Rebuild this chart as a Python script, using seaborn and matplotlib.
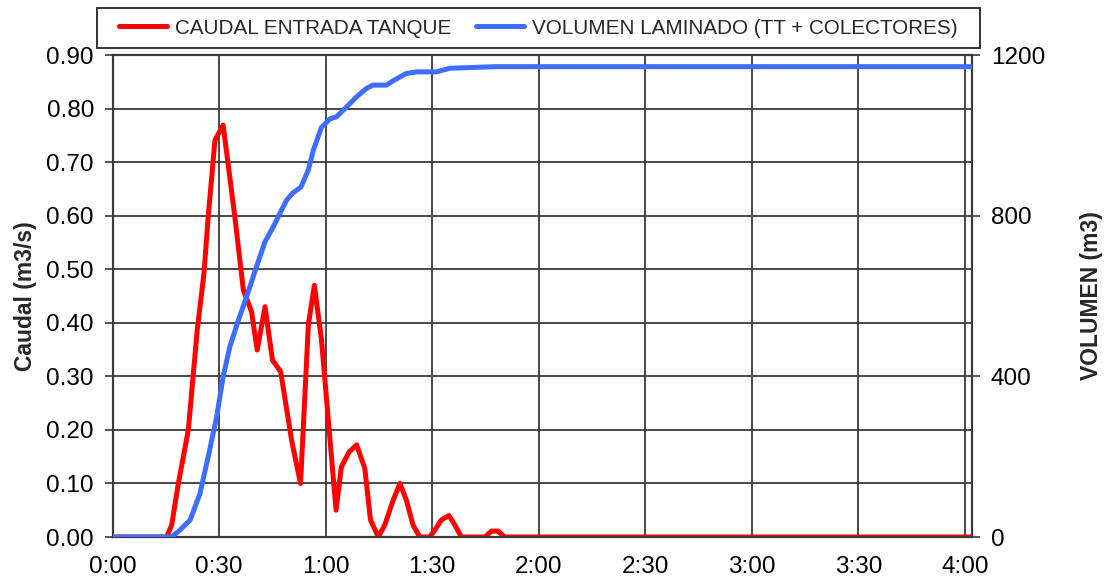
import matplotlib
matplotlib.use("Agg")
import matplotlib.pyplot as plt
import matplotlib.ticker as mticker
from matplotlib.patches import Rectangle
import seaborn as sns
import pandas as pd

# ---- data (time in minutes) ----
caudal_t = [0, 15.2, 16.6, 18.5, 21.3, 23.8, 25.7, 26.9, 28.8, 31.1, 34.4, 36.8,
            39.1, 40.7, 42.9, 45.0, 47.3, 50.4, 52.9, 55.1, 56.8, 58.8, 62.9,
            64.4, 66.6, 68.7, 71.0, 72.6, 74.8, 76.6, 79.0, 80.9, 82.7, 84.6,
            86.5, 89.3, 90.7, 92.6, 94.7, 96.4, 98.2, 104.8, 106.7, 108.5,
            110.4, 242]
caudal_v = [0, 0, 0.022, 0.10, 0.20, 0.386, 0.492, 0.598, 0.741, 0.769, 0.598,
            0.461, 0.421, 0.349, 0.43, 0.33, 0.309, 0.18, 0.10, 0.396, 0.47,
            0.368, 0.05, 0.131, 0.159, 0.172, 0.128, 0.032, 0.0, 0.022, 0.069,
            0.10, 0.069, 0.022, 0, 0, 0.013, 0.032, 0.04, 0.022, 0, 0, 0.011,
            0.011, 0, 0]

volumen_t = [0, 16.6, 18.9, 21.8, 24.6, 26.9, 29.3, 31.1, 33.0, 35.4, 37.7,
             40.5, 42.9, 45.2, 47.1, 49.0, 50.8, 53.0, 55.1, 56.5, 58.8, 61.2,
             63.0, 65.9, 68.7, 71.5, 73.3, 77.1, 79.0, 82.7, 85.6, 91.2, 94.9,
             108.1, 242]
volumen_v = [0, 0, 17, 42, 109, 200, 300, 399, 474, 540, 598, 673, 735, 772,
             806, 839, 857, 871, 914, 963, 1020, 1041, 1046, 1071, 1096, 1117,
             1125, 1125, 1136, 1154, 1158, 1158, 1167, 1171, 1171]

x_ticks = [0, 30, 60, 90, 120, 150, 180, 210, 240]
x_labels = ["0:00", "0:30", "1:00", "1:30", "2:00", "2:30", "3:00", "3:30", "4:00"]
label_caudal = "CAUDAL ENTRADA TANQUE"
label_vol = "VOLUMEN LAMINADO (TT + COLECTORES)"

sns.set_style("white")
plt.rcParams['font.family'] = ['Liberation Sans', 'DejaVu Sans']

df_c = pd.DataFrame({"t": caudal_t, "v": caudal_v})
df_v = pd.DataFrame({"t": volumen_t, "v": volumen_v})

W, H = 1105, 585
fig = plt.figure(figsize=(W / 100, H / 100), dpi=100)
ax = fig.add_axes([112.7 / W, 1 - 537 / H, (972 - 112.7) / W, (537 - 55) / H])
ax2 = ax.twinx()

red = "#FF0000"
blue = "#3D6EFF"
sns.lineplot(data=df_c, x="t", y="v", ax=ax, color=red, linewidth=3.6,
             label=label_caudal, legend=False, zorder=3)
sns.lineplot(data=df_v, x="t", y="v", ax=ax2, color=blue, linewidth=3.6,
             label=label_vol, legend=False, zorder=3)

ax.set_xlim(0, 242)
ax.set_ylim(0, 0.9)
ax2.set_ylim(0, 1200)

ax.set_xticks(x_ticks)
ax.set_xticklabels(x_labels)
ax.set_yticks([i / 10 for i in range(10)])
ax.yaxis.set_major_formatter(mticker.FormatStrFormatter("%.2f"))
ax2.set_yticks([0, 400, 800, 1200])

gridc = "#3a3a3a"
ax.grid(True, color=gridc, linewidth=1.3)
ax.set_axisbelow(True)

for a in (ax, ax2):
    for s in a.spines.values():
        s.set_color(gridc)
        s.set_linewidth(1.5)
    a.tick_params(direction="out", length=5.5, width=1.2, color=gridc,
                  labelsize=17.5, colors="black")
ax.tick_params(axis="both", colors=gridc, labelcolor="black")
ax.tick_params(axis="y", pad=8)
ax2.tick_params(axis="y", colors=gridc, labelcolor="black", pad=8)
ax.tick_params(axis="x", pad=8)

ax.set_xlabel("")
ax.set_ylabel("Caudal (m3/s)", fontsize=16.5, fontweight="bold")
ax2.set_ylabel("VOLUMEN (m3)", fontsize=16.5, fontweight="bold", rotation=90)
ax.yaxis.set_label_coords(-0.088, 0.5)
ax2.yaxis.set_label_coords(1.126, 0.5)

# legend box
fig.patches.append(Rectangle((97 / W, 1 - 48 / H), (980 - 97) / W, 40 / H,
                             transform=fig.transFigure, fill=False,
                             edgecolor="#222222", linewidth=1.3, zorder=5))
h1, l1 = ax.get_legend_handles_labels()
h2, l2 = ax2.get_legend_handles_labels()
leg = fig.legend(h1 + h2, l1 + l2, loc="center",
                 bbox_to_anchor=((97 + 980) / 2 / W, 1 - 28 / H),
                 ncol=2, frameon=False,
                 fontsize=14.9, handlelength=2.3, handletextpad=0.4,
                 columnspacing=1.2, borderpad=0.2, borderaxespad=0)
for line in leg.get_lines():
    line.set_linewidth(3.6)

fig.savefig("out.png", dpi=100)
